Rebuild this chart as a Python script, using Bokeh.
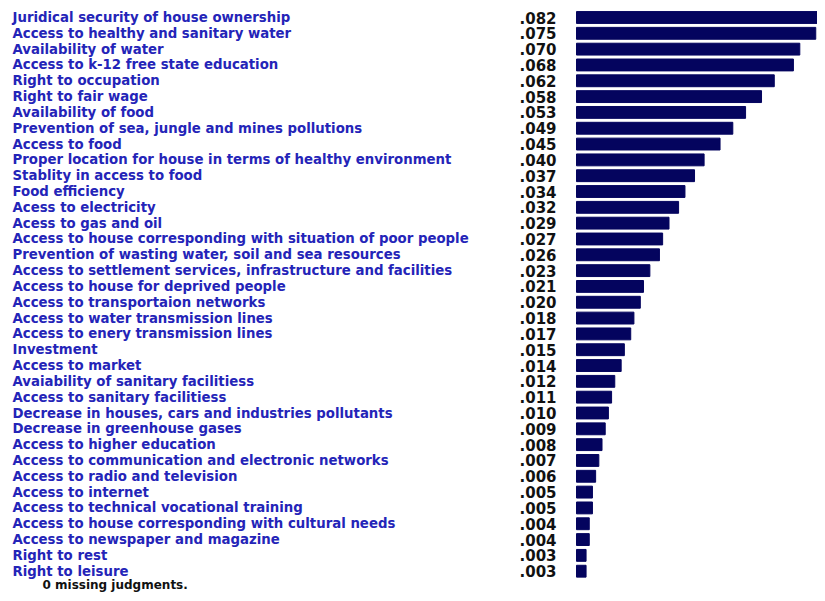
from bokeh.plotting import figure
from bokeh.models import Range1d, ColumnDataSource
from bokeh.core.properties import value
from bokeh.embed import file_html
from bokeh.resources import INLINE

labels = [
    "Juridical security of house ownership",
    "Access to healthy and  sanitary water",
    "Availability of water",
    "Access to k-12 free state education",
    "Right to occupation",
    "Right to fair wage",
    "Availability of food",
    "Prevention of sea, jungle and mines pollutions",
    "Access to food",
    "Proper location for house in terms of healthy environment",
    "Stablity in access to food",
    "Food efficiency",
    "Acess to electricity",
    "Acess to gas and oil",
    "Access to house corresponding with  situation of poor people",
    "Prevention of wasting water, soil and sea resources",
    "Access to settlement services, infrastructure and facilities",
    "Access to house for deprived people",
    "Access to transportaion networks",
    "Access to water transmission lines",
    "Access to enery transmission lines",
    "Investment",
    "Access to market",
    "Avaiability of sanitary facilitiess",
    "Access to sanitary facilitiess",
    "Decrease in houses, cars and industries pollutants",
    "Decrease in greenhouse gases",
    "Access to higher education",
    "Access to communication and electronic networks",
    "Access to radio and television",
    "Access to internet",
    "Access to technical vocational training",
    "Access to house corresponding with cultural needs",
    "Access to newspaper and magazine",
    "Right to rest",
    "Right to leisure",
]
weights = [0.082, 0.075, 0.070, 0.068, 0.062, 0.058, 0.053, 0.049, 0.045, 0.040,
           0.037, 0.034, 0.032, 0.029, 0.027, 0.026, 0.023, 0.021, 0.020, 0.018,
           0.017, 0.015, 0.014, 0.012, 0.011, 0.010, 0.009, 0.008, 0.007, 0.006,
           0.005, 0.005, 0.004, 0.004, 0.003, 0.003]
footer = "0 missing judgments."

W, H = 817, 593
x0_px = 576.0          # pixel where zero sits
scale = 3190.0         # pixels per unit weight
row_px = 15.82
top_px = 17.0

x_start = -x0_px / scale
x_end = (W - x0_px) / scale
y_top = -top_px / row_px
y_bot = (H - top_px) / row_px

idx = list(range(len(labels)))
src = ColumnDataSource(dict(
    y=idx, w=weights, lab=labels,
    val=[("%.3f" % v)[1:] for v in weights],
))

p = figure(width=W, height=H, output_backend="svg", toolbar_location=None,
           x_range=Range1d(x_start, x_end), y_range=Range1d(y_bot, y_top),
           min_border=0, outline_line_color=None)
p.axis.visible = False
p.grid.visible = False
p.background_fill_color = "white"
p.border_fill_color = "white"

p.hbar(y="y", left=0, right="w", height=0.75, source=src,
       fill_color="#04045e", line_color="#04045e")

lab_x = (12 - x0_px) / scale
val_x = (556 - x0_px) / scale
p.text(x=lab_x, y="y", text="lab", source=src, text_font=value("DejaVu Sans"),
       text_font_style="bold", text_font_size="13.3px", text_color="#2424b8",
       text_baseline="middle", text_align="left")
p.text(x=val_x, y="y", text="val", source=src, text_font=value("DejaVu Sans"),
       text_font_style="bold", text_font_size="15px", text_color="#111111",
       text_baseline="middle", text_align="right")
p.text(x=[(42 - x0_px) / scale], y=[(584.5 - top_px) / row_px], text=[footer],
       text_font=value("DejaVu Sans"), text_font_style="bold",
       text_font_size="12px", text_color="#111111",
       text_baseline="middle", text_align="left")

open("out.html", "w").write(file_html(p, INLINE))
